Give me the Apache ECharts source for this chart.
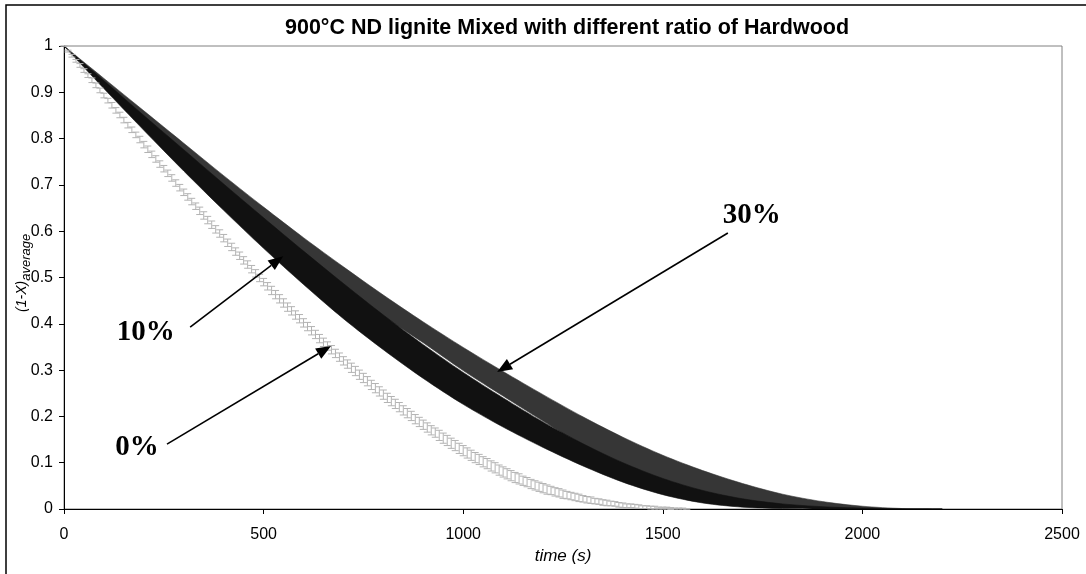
<!DOCTYPE html>
<html>
<head>
<meta charset="utf-8">
<script src="https://cdn.jsdelivr.net/npm/echarts@6/dist/echarts.min.js"></script>
<style>
  html, body { margin: 0; padding: 0; background: #fff; }
  #chart { width: 1086px; height: 574px; }
</style>
</head>
<body>
<div id="chart"></div>
<script>
// ---- data -------------------------------------------------------------
const titleText = '900°C ND lignite Mixed with different ratio of Hardwood';
const xTicks = [0, 500, 1000, 1500, 2000, 2500];
const yTicks = [0, 0.1, 0.2, 0.3, 0.4, 0.5, 0.6, 0.7, 0.8, 0.9, 1];

// 0% hardwood: averaged (1-X) sampled every 10 s, with its standard deviation
const step0 = 10;
const mean0 = [
  1.000,0.989,0.979,0.968,0.958,0.947,0.936,0.926,0.915,0.904,
  0.893,0.882,0.872,0.861,0.851,0.840,0.829,0.819,0.808,0.798,
  0.787,0.777,0.766,0.756,0.745,0.735,0.725,0.715,0.704,0.694,
  0.684,0.674,0.664,0.654,0.644,0.634,0.624,0.614,0.604,0.595,
  0.585,0.575,0.566,0.556,0.547,0.537,0.528,0.518,0.509,0.499,
  0.490,0.481,0.472,0.463,0.454,0.445,0.436,0.428,0.419,0.411,
  0.402,0.394,0.385,0.377,0.368,0.360,0.352,0.344,0.336,0.328,
  0.320,0.313,0.305,0.298,0.290,0.283,0.276,0.268,0.261,0.254,
  0.247,0.240,0.233,0.227,0.220,0.213,0.207,0.201,0.194,0.188,
  0.182,0.176,0.170,0.165,0.159,0.153,0.148,0.142,0.137,0.131,
  0.126,0.121,0.116,0.111,0.107,0.102,0.098,0.093,0.089,0.084,
  0.080,0.076,0.072,0.068,0.065,0.061,0.058,0.054,0.051,0.048,
  0.045,0.042,0.040,0.037,0.035,0.032,0.030,0.028,0.026,0.024,
  0.022,0.020,0.019,0.017,0.016,0.014,0.013,0.012,0.011,0.009,
  0.008,0.007,0.007,0.006,0.005,0.004,0.004,0.003,0.003,0.002,
  0.002,0.002,0.001,0.001,0.001,0.001,0.000
];
const sd0 = [
  0.000,0.002,0.003,0.003,0.004,0.004,0.004,0.005,0.005,0.005,
  0.005,0.005,0.006,0.006,0.006,0.006,0.006,0.006,0.006,0.007,
  0.007,0.007,0.007,0.007,0.007,0.007,0.007,0.007,0.007,0.007,
  0.007,0.007,0.007,0.007,0.008,0.008,0.008,0.008,0.008,0.008,
  0.008,0.008,0.008,0.008,0.008,0.008,0.008,0.008,0.008,0.008,
  0.008,0.008,0.009,0.009,0.009,0.009,0.009,0.009,0.009,0.009,
  0.009,0.009,0.009,0.009,0.009,0.009,0.009,0.009,0.009,0.009,
  0.009,0.009,0.010,0.010,0.010,0.010,0.010,0.010,0.010,0.010,
  0.010,0.010,0.010,0.010,0.010,0.010,0.010,0.010,0.010,0.010,
  0.010,0.010,0.010,0.010,0.011,0.011,0.011,0.011,0.011,0.011,
  0.011,0.011,0.011,0.011,0.011,0.011,0.011,0.011,0.011,0.011,
  0.011,0.011,0.011,0.011,0.011,0.010,0.010,0.010,0.010,0.010,
  0.010,0.010,0.009,0.009,0.009,0.009,0.008,0.008,0.008,0.008,
  0.007,0.007,0.007,0.006,0.006,0.006,0.006,0.005,0.005,0.005,
  0.005,0.004,0.004,0.004,0.004,0.003,0.003,0.003,0.003,0.002,
  0.002,0.002,0.002,0.001,0.001,0.001,0.000
];

// 10% and 30% hardwood: lower / upper bounds of the error band
const tBand = [0,100,200,300,400,500,600,700,800,900,1000,1100,1200,1300,1400,1500,1600,1700,1800,1900,2000,2100,2200];
const lo10 = [1.000,0.908,0.818,0.730,0.645,0.563,0.485,0.411,0.344,0.282,0.226,0.177,0.133,0.093,0.058,0.031,0.013,0.004,0.001,0,0,0,0];
const hi10 = [1.000,0.925,0.850,0.776,0.702,0.629,0.557,0.487,0.419,0.355,0.295,0.240,0.188,0.141,0.100,0.066,0.040,0.022,0.011,0.005,0.002,0,0];
const lo30 = [1.000,0.920,0.842,0.766,0.692,0.619,0.549,0.480,0.417,0.359,0.299,0.244,0.190,0.138,0.095,0.060,0.034,0.017,0.007,0.002,0,0,0];
const hi30 = [1.000,0.930,0.860,0.790,0.720,0.652,0.586,0.523,0.462,0.404,0.349,0.297,0.247,0.199,0.155,0.116,0.083,0.055,0.032,0.016,0.006,0.001,0];

// callouts: label position, arrow tail and arrow head, in (time, value) units
const callouts = [
  { text: '30%', at: [1723, 0.633], from: [1663, 0.596], to: [1085, 0.296] },
  { text: '10%', at: [205, 0.382],  from: [316, 0.393],  to: [549, 0.546] },
  { text: '0%',  at: [183, 0.132],  from: [258, 0.140],  to: [669, 0.352] }
];

// ---- chart ------------------------------------------------------------
const SANS = 'Arial, "Liberation Sans", sans-serif';
const SERIF = '"Times New Roman", "Liberation Serif", serif';
const chart = echarts.init(document.getElementById('chart'), null, { renderer: 'canvas' });

// filled band between the lower and upper bounds, drawn once for the series
function bandSeries(name, lo, hi, color) {
  return {
    type: 'custom',
    name: name,
    coordinateSystem: 'cartesian2d',
    clip: true,
    data: tBand.map((t, i) => [t, lo[i], hi[i]]),
    encode: { x: 0, y: [1, 2] },
    renderItem: function (params, api) {
      if (params.dataIndex !== 0) return null;
      const pts = [];
      for (let i = 0; i < tBand.length; i++) pts.push(api.coord([tBand[i], hi[i]]));
      for (let i = tBand.length - 1; i >= 0; i--) pts.push(api.coord([tBand[i], lo[i]]));
      return {
        type: 'polygon',
        shape: { points: pts, smooth: 0.3 },
        style: { fill: color, stroke: color, lineWidth: 0.6 }
      };
    }
  };
}

// capped error bars, one per sample
const errorBarSeries = {
  type: 'custom',
  name: '0%',
  coordinateSystem: 'cartesian2d',
  data: mean0.map((m, i) => [i * step0, m, sd0[i]]),
  encode: { x: 0, y: 1 },
  renderItem: function (params, api) {
    const t = api.value(0), m = api.value(1), s = api.value(2);
    const top = api.coord([t, m + s]);
    const bot = api.coord([t, m - s]);
    const hw = 3.5;
    const st = { stroke: '#b3b3b3', lineWidth: 1 };
    return {
      type: 'group',
      children: [
        { type: 'line', shape: { x1: top[0], y1: top[1], x2: bot[0], y2: bot[1] }, style: st },
        { type: 'line', shape: { x1: top[0] - hw, y1: top[1], x2: top[0] + hw, y2: top[1] }, style: st },
        { type: 'line', shape: { x1: bot[0] - hw, y1: bot[1], x2: bot[0] + hw, y2: bot[1] }, style: st }
      ]
    };
  }
};

chart.setOption({
  animation: false,
  backgroundColor: '#fff',
  grid: {
    left: 64, right: 24, top: 46, bottom: 65,
    containLabel: false,
    outerBoundsMode: 'none',
    show: true, borderColor: '#808080', borderWidth: 1, backgroundColor: 'transparent'
  },
  xAxis: {
    type: 'value',
    min: xTicks[0], max: xTicks[xTicks.length - 1], interval: xTicks[1] - xTicks[0],
    name: 'time (s)',
    nameLocation: 'middle',
    nameGap: 36,
    nameTextStyle: { fontFamily: SANS, fontSize: 17, fontStyle: 'italic', color: '#000' },
    axisLine: { lineStyle: { color: '#000', width: 1 } },
    axisTick: { show: true, length: 5, lineStyle: { color: '#000' } },
    axisLabel: { fontFamily: SANS, fontSize: 16, color: '#000', margin: 18, formatter: v => String(v) },
    splitLine: { show: false }
  },
  yAxis: {
    type: 'value',
    min: yTicks[0], max: yTicks[yTicks.length - 1], interval: yTicks[1] - yTicks[0],
    axisLine: { show: true, lineStyle: { color: '#000', width: 1 } },
    axisTick: { show: true, length: 5, lineStyle: { color: '#000' } },
    axisLabel: {
      fontFamily: SANS, fontSize: 16, color: '#000', margin: 11,
      formatter: v => String(+v.toFixed(1))
    },
    splitLine: { show: false }
  },
  series: [
    bandSeries('30%', lo30, hi30, '#363636'),
    bandSeries('10%', lo10, hi10, '#111111'),
    errorBarSeries
  ]
});

// title, y-axis name, outer frame and the callout arrows
function calloutElements(c) {
  const p1 = chart.convertToPixel({ gridIndex: 0 }, c.from);
  const p2 = chart.convertToPixel({ gridIndex: 0 }, c.to);
  const pt = chart.convertToPixel({ gridIndex: 0 }, c.at);
  const ang = Math.atan2(p2[1] - p1[1], p2[0] - p1[0]);
  const L = 15, W = 6;
  const cs = Math.cos(ang), sn = Math.sin(ang);
  const bx = p2[0] - L * cs, by = p2[1] - L * sn;
  return [
    { type: 'line', z: 100, shape: { x1: p1[0], y1: p1[1], x2: bx, y2: by },
      style: { stroke: '#000', lineWidth: 1.6 } },
    { type: 'polygon', z: 100,
      shape: { points: [[p2[0], p2[1]], [bx - W * sn, by + W * cs], [bx + W * sn, by - W * cs]] },
      style: { fill: '#000' } },
    { type: 'text', z: 100, x: pt[0], y: pt[1],
      style: { text: c.text, fontFamily: SERIF, fontWeight: 'bold', fontSize: 29, fill: '#000',
               align: 'center', verticalAlign: 'middle' } }
  ];
}

const yMid = chart.convertToPixel({ yAxisIndex: 0 }, 0.51);
const graphics = [
  { type: 'rect', z: 100, shape: { x: 6, y: 5, width: 1090, height: 590 },
    style: { fill: null, stroke: '#000', lineWidth: 1.5 } },
  { type: 'text', z: 100, x: 567, y: 28,
    style: { text: titleText, fontFamily: SANS, fontWeight: 'bold', fontSize: 21.5, fill: '#000',
             align: 'center', verticalAlign: 'middle' } },
  { type: 'text', z: 100, x: 24, y: yMid, rotation: Math.PI / 2,
    style: {
      text: '{a|(1-X)}{b|average}', align: 'center', verticalAlign: 'middle',
      rich: {
        a: { fontFamily: SANS, fontSize: 14, fontStyle: 'italic', fill: '#000', lineHeight: 18, verticalAlign: 'top' },
        b: { fontFamily: SANS, fontSize: 13, fontStyle: 'italic', fill: '#000', lineHeight: 18, verticalAlign: 'bottom' }
      }
    } }
];
callouts.forEach(c => graphics.push(...calloutElements(c)));
chart.setOption({ graphic: graphics });
</script>
</body>
</html>
